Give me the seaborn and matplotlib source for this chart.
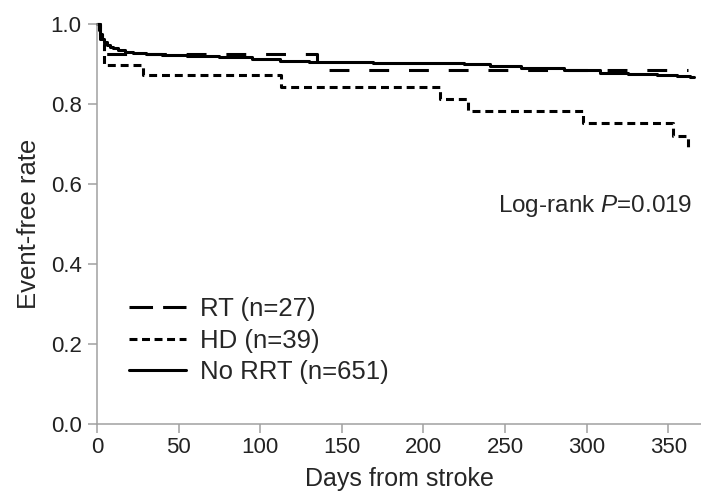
import matplotlib
matplotlib.use("Agg")
import matplotlib.pyplot as plt
from matplotlib.lines import Line2D
import seaborn as sns
import pandas as pd

# ---- data ----
rt_days = [0, 2, 4, 135, 362]
rt_surv = [1.0, 0.963, 0.926, 0.884, 0.884]

hd_days = [0, 2, 3, 4, 28, 113, 210, 227, 298, 353, 362, 364]
hd_surv = [1.0, 0.974, 0.949, 0.897, 0.872, 0.843, 0.812, 0.783, 0.753, 0.72, 0.69, 0.69]

norrt_days = [0, 1, 2, 3, 4, 6, 8, 10, 13, 17, 22, 30, 40, 55, 75, 95, 112, 130, 150,
              169, 212, 225, 241, 260, 286, 308, 325, 343, 355, 363, 366]
norrt_surv = [1.0, 0.985, 0.972, 0.962, 0.955, 0.948, 0.943, 0.939, 0.935, 0.931, 0.928,
              0.925, 0.923, 0.921, 0.917, 0.912, 0.908, 0.906, 0.904, 0.903, 0.903, 0.899,
              0.894, 0.890, 0.884, 0.878, 0.876, 0.8725, 0.870, 0.867, 0.867]

labels = ["RT (n=27)", "HD (n=39)", "No RRT (n=651)"]
x_ticks = [0, 50, 100, 150, 200, 250, 300, 350]
y_ticks = [0.0, 0.2, 0.4, 0.6, 0.8, 1.0]
annotation = "Log-rank $\\it{P}$=0.019"

sns.set_style("ticks")
plt.rcParams["font.family"] = ["Liberation Sans", "DejaVu Sans"]
plt.rcParams["mathtext.fontset"] = "custom"
plt.rcParams["mathtext.rm"] = "Liberation Sans"
plt.rcParams["mathtext.it"] = "Liberation Sans:italic"

frames = []
for lab, d, s in [(labels[0], rt_days, rt_surv), (labels[1], hd_days, hd_surv),
                  (labels[2], norrt_days, norrt_surv)]:
    frames.append(pd.DataFrame({"day": d, "surv": s, "group": lab}))
df = pd.concat(frames, ignore_index=True)

fig = plt.figure(figsize=(7.01, 4.92), dpi=100)
ax = fig.add_axes([97 / 701, 68 / 492, 604 / 701, 400 / 492])

lw = 2.2
dash_styles = {labels[0]: (0, (6.5, 6.5)), labels[1]: (0, (2.6, 1.6)), labels[2]: "-"}
for lab in labels:
    sub = df[df["group"] == lab]
    sns.lineplot(data=sub, x="day", y="surv", estimator=None, sort=False,
                 drawstyle="steps-post", color="black", lw=lw, legend=False, ax=ax)
    line = ax.lines[-1]
    line.set_linestyle(dash_styles[lab])
    line.set_clip_on(False)

ax.set_xlim(0, 370)
ax.set_ylim(0, 1.0)
ax.set_xticks(x_ticks)
ax.set_xticklabels([str(v) for v in x_ticks])
ax.set_yticks(y_ticks)
ax.set_yticklabels([f"{v:.1f}" for v in y_ticks])

for sp in ["top", "right"]:
    ax.spines[sp].set_visible(False)
for sp in ["left", "bottom"]:
    ax.spines[sp].set_color("#a0a0a0")
    ax.spines[sp].set_linewidth(1.1)
ax.tick_params(axis="both", direction="out", length=6.5, width=1.1, color="#a0a0a0",
               labelsize=16, labelcolor="#222222")
ax.tick_params(axis="y", pad=4.5)
ax.tick_params(axis="x", pad=3)

ax.set_xlabel("Days from stroke", fontsize=18, labelpad=6)
ax.set_ylabel("Event-free rate", fontsize=18.5, labelpad=7)

ax.text(0.985, 0.545, annotation, transform=ax.transAxes, ha="right", va="center",
        fontsize=17.5)

handles = [
    Line2D([], [], color="black", lw=lw, linestyle=(0, (7.7, 3.3))),
    Line2D([], [], color="black", lw=lw, linestyle=(0, (2.6, 1.5))),
    Line2D([], [], color="black", lw=lw, linestyle="-"),
]
ax.legend(handles, labels, loc="upper left", bbox_to_anchor=(0.053, 0.318),
          frameon=False, fontsize=18.5, handlelength=2.2, handletextpad=0.55,
          labelspacing=0.3, borderpad=0, borderaxespad=0)

fig.savefig("out.png", dpi=100)
